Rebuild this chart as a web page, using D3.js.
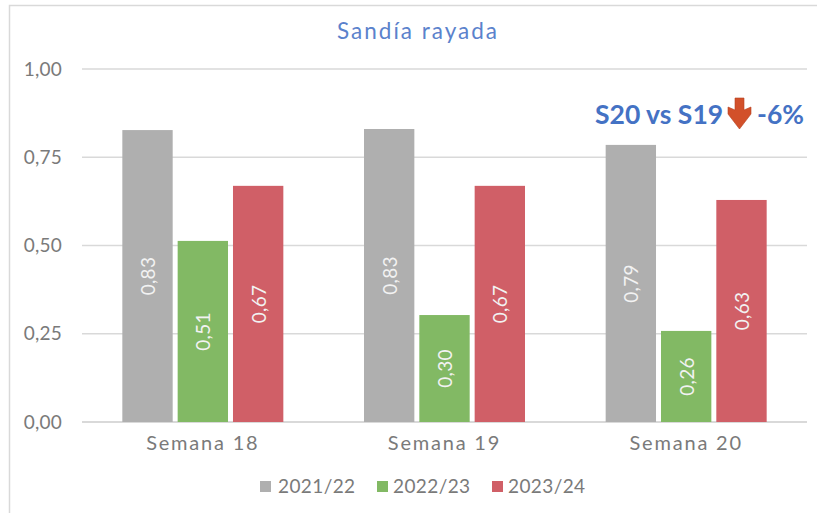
<!DOCTYPE html>
<html><head><meta charset="utf-8">
<script src="https://cdn.jsdelivr.net/npm/d3@7"></script>
<style>html,body{margin:0;padding:0;background:#fff}svg{display:block}text{font-family:"Lato","Open Sans",sans-serif}</style>
</head><body><svg id="c" width="817" height="513"></svg>
<script>
const categories=["Semana 18","Semana 19","Semana 20"];
const seriesNames=["2021/22","2022/23","2023/24"];
const s2122=[0.827,0.83,0.785];
const s2223=[0.513,0.303,0.258];
const s2324=[0.669,0.669,0.629];
const labels2122=["0,83","0,83","0,79"];
const labels2223=["0,51","0,30","0,26"];
const labels2324=["0,67","0,67","0,63"];
const colors=["#AFAFAF","#82B964","#D05F67"];
const yTicks=[0,0.25,0.5,0.75,1];
const title="Sandía rayada";
const note=["S20 vs S19","-6%"];

const svg=d3.select("#c");
svg.append("path").attr("d","M9.5,513V5.5H817").attr("fill","none").attr("stroke","#D9D9D9").attr("stroke-width",1.5);

const x=d3.scaleBand().domain(categories).range([82,807]);
const y=d3.scaleLinear().domain([0,1]).range([422,69]);
const x1=d3.scaleBand().domain(seriesNames).range([0,161]).paddingInner(0.09);

const fmt=d=>d3.format(".2f")(d).replace(".",",");
const yAxis=d3.axisLeft(y).tickValues(yTicks).tickFormat(fmt).tickSize(0).tickPadding(20);
const gy=svg.append("g").attr("transform","translate(82,0)").call(yAxis);
gy.select(".domain").remove();
gy.selectAll("text").attr("font-size",19).attr("font-weight",400).attr("letter-spacing",0.2).attr("fill","#7A7A7A").style("font-family","Lato");
svg.append("g").selectAll("line").data(yTicks).join("line")
 .attr("x1",82).attr("x2",807).attr("y1",d=>y(d)).attr("y2",d=>y(d))
 .attr("stroke","#D9D9D9").attr("stroke-width",d=>d===0?2:1.5);

const all=[s2122,s2223,s2324], labs=[labels2122,labels2223,labels2324];
seriesNames.forEach((n,si)=>{
  const g=svg.append("g");
  const xp=c=>x(c)+(x.bandwidth()-161)/2+x1(n);
  g.selectAll("rect").data(categories).join("rect")
   .attr("x",c=>xp(c)).attr("width",x1.bandwidth())
   .attr("y",(c,i)=>y(all[si][i])).attr("height",(c,i)=>y(0)-y(all[si][i]))
   .attr("fill",colors[si]);
  g.selectAll("text").data(categories).join("text")
   .attr("transform",(c,i)=>`translate(${xp(c)+x1.bandwidth()/2},${(y(all[si][i])+y(0))/2}) rotate(-90)`)
   .attr("text-anchor","middle").attr("dominant-baseline","central")
   .attr("font-size",19).attr("font-weight",400).attr("letter-spacing",0.3).attr("fill","#F2F2F2").text((c,i)=>labs[si][i]);
});

const xAxis=d3.axisBottom(x).tickSize(0).tickPadding(14);
const gx=svg.append("g").attr("transform","translate(0,422)").call(xAxis);
gx.select(".domain").remove();
gx.selectAll("text").attr("font-size",20).attr("font-weight",400).attr("letter-spacing",1.8).attr("fill","#7A7A7A").style("font-family","Lato");

svg.append("text").attr("x",418).attr("y",39).attr("text-anchor","middle")
 .attr("font-size",22.5).attr("font-weight",400).attr("fill","#5B82CC").attr("letter-spacing",2).text(title);

const lx=[260,377,492];
seriesNames.forEach((n,i)=>{
  svg.append("rect").attr("x",lx[i]).attr("y",481).attr("width",11).attr("height",11).attr("fill",colors[i]);
  svg.append("text").attr("x",(i===0?278:lx[i]+16)).attr("y",493).attr("font-size",19).attr("letter-spacing",0.4).attr("fill","#7A7A7A").text(n);
});

const nt=svg.append("g").attr("font-size",26.5).attr("font-weight",700).attr("fill","#4472C4");
nt.append("text").attr("x",595).attr("y",124).text(note[0]);
nt.append("text").attr("x",757).attr("y",124).text(note[1]);
svg.append("path").attr("d","M735,98H744V110L751,107V114L739.5,129L728,114V107L735,110Z").attr("fill","#D2502A").attr("stroke","#B5401F").attr("stroke-width",0.6);
</script></body></html>
